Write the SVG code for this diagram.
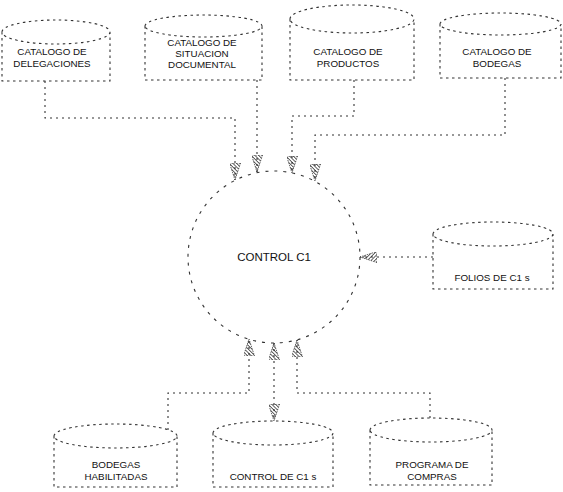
<svg xmlns="http://www.w3.org/2000/svg" width="563" height="492" viewBox="0 0 563 492">
<style>
.store{fill:none;stroke:#333;stroke-width:1.1;stroke-dasharray:2.5 3.5}
.proc{fill:none;stroke:#333;stroke-width:1.1;stroke-dasharray:3 6}
.flow{fill:none;stroke:#333;stroke-width:1.1;stroke-dasharray:2 4}
.lbl{font-family:"Liberation Sans",Arial,sans-serif;font-size:9.8px;fill:#111;text-anchor:middle}
.big{font-size:11.5px}
</style>
<defs>
<pattern id="hatch" patternUnits="userSpaceOnUse" width="2.6" height="2.6" patternTransform="rotate(45)">
<line x1="0" y1="0" x2="0" y2="2.6" stroke="#111" stroke-width="1.3"/>
</pattern>
<marker id="ah" viewBox="0 0 17 11" refX="17" refY="5.5" markerWidth="17" markerHeight="11" markerUnits="userSpaceOnUse" orient="auto-start-reverse">
<path d="M0,0 L17,5.5 L0,11 Z" fill="url(#hatch)" stroke="#222" stroke-width="0.7" stroke-dasharray="1.5 1"/>
</marker>
</defs>

<g id="connectors">
<polyline class="flow" points="45,81 45,118 235,118 235,180" marker-end="url(#ah)"/>
<polyline class="flow" points="257,80 257,172" marker-end="url(#ah)"/>
<polyline class="flow" points="354,80 354,116 292,116 292,173" marker-end="url(#ah)"/>
<polyline class="flow" points="505,78 505,135 315,135 315,181" marker-end="url(#ah)"/>
<polyline class="flow" points="433,257 360,257" marker-end="url(#ah)"/>
<polyline class="flow" points="168,430 168,393 249,393 249,339" marker-end="url(#ah)"/>
<polyline class="flow" points="274,343 274,421" marker-start="url(#ah)" marker-end="url(#ah)"/>
<polyline class="flow" points="430,418 430,393 297,393 297,340" marker-end="url(#ah)"/>
</g>

<g id="control-c1">
<circle class="proc" cx="274" cy="257" r="86"/>
<text class="lbl big" x="274" y="261">CONTROL C1</text>
</g>

<g id="catalogo-delegaciones">
<path class="store" d="M2,32 A54,12 0 0 1 110,32 A54,12 0 0 1 2,32 M2,32 L2,81 L110,81 L110,32"/>
<text class="lbl" x="52" y="55">CATALOGO DE</text>
<text class="lbl" x="52" y="67">DELEGACIONES</text>
</g>

<g id="catalogo-situacion">
<path class="store" d="M145,26 A58.5,11 0 0 1 262,26 A58.5,11 0 0 1 145,26 M145,26 L145,80 L262,80 L262,26"/>
<text class="lbl" x="202" y="46">CATALOGO DE</text>
<text class="lbl" x="202" y="57">SITUACION</text>
<text class="lbl" x="202" y="68">DOCUMENTAL</text>
</g>

<g id="catalogo-productos">
<path class="store" d="M290,19 A62,14 0 0 1 414,19 A62,14 0 0 1 290,19 M290,19 L290,80 L414,80 L414,19"/>
<text class="lbl" x="348" y="55">CATALOGO DE</text>
<text class="lbl" x="348" y="67">PRODUCTOS</text>
</g>

<g id="catalogo-bodegas">
<path class="store" d="M440,24 A60.5,11 0 0 1 561,24 A60.5,11 0 0 1 440,24 M440,24 L440,78 L561,78 L561,24"/>
<text class="lbl" x="497" y="55">CATALOGO DE</text>
<text class="lbl" x="497" y="67">BODEGAS</text>
</g>

<g id="folios-c1">
<path class="store" d="M433,234 A60,12 0 0 1 553,234 A60,12 0 0 1 433,234 M433,234 L433,289 L553,289 L553,234"/>
<text class="lbl" x="492" y="281">FOLIOS DE C1 s</text>
</g>

<g id="bodegas-habilitadas">
<path class="store" d="M54,436 A61.5,12 0 0 1 177,436 A61.5,12 0 0 1 54,436 M54,436 L54,487 L177,487 L177,436"/>
<text class="lbl" x="116" y="468">BODEGAS</text>
<text class="lbl" x="116" y="480">HABILITADAS</text>
</g>

<g id="control-de-c1s">
<path class="store" d="M213,433 A60,12 0 0 1 333,433 A60,12 0 0 1 213,433 M213,433 L213,487 L333,487 L333,433"/>
<text class="lbl" x="273" y="480">CONTROL DE C1 s</text>
</g>

<g id="programa-compras">
<path class="store" d="M370,430 A61,12 0 0 1 492,430 A61,12 0 0 1 370,430 M370,430 L370,485 L492,485 L492,430"/>
<text class="lbl" x="432" y="468">PROGRAMA DE</text>
<text class="lbl" x="432" y="480">COMPRAS</text>
</g>
</svg>
